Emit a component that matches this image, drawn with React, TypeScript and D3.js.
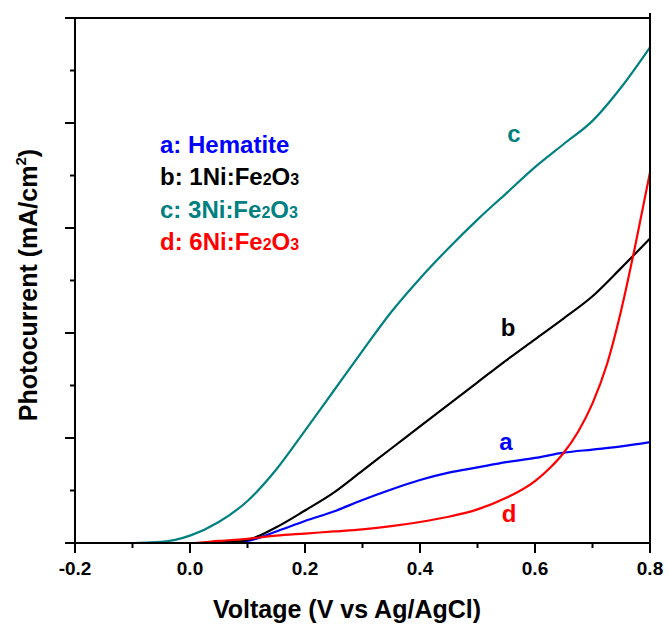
import React from 'react';
import * as d3 from 'd3';

// voltage steps (V vs Ag/AgCl)
const voltage = [-0.2, -0.15, -0.1, -0.05, 0.0, 0.05, 0.1, 0.15, 0.2, 0.25, 0.3, 0.35, 0.4, 0.45, 0.5, 0.55, 0.6, 0.65, 0.7, 0.75, 0.8];

// photocurrent (arbitrary units, axis has no labels)
const hematite = [0, 0, 0, 0, 0, 0, 0.02, 0.11, 0.21, 0.3, 0.41, 0.51, 0.6, 0.67, 0.72, 0.77, 0.81, 0.86, 0.89, 0.92, 0.96];
const ni1 = [0, 0, 0, 0, 0, 0.005, 0.03, 0.15, 0.31, 0.48, 0.69, 0.9, 1.11, 1.32, 1.53, 1.74, 1.94, 2.14, 2.35, 2.62, 2.9];
const ni3 = [0, 0, 0, 0.01, 0.07, 0.2, 0.4, 0.7, 1.07, 1.45, 1.83, 2.2, 2.52, 2.81, 3.08, 3.33, 3.58, 3.8, 4.02, 4.34, 4.72];

const voltageD = [-0.2, -0.1, 0.0, 0.05, 0.1, 0.15, 0.2, 0.25, 0.3, 0.35, 0.4, 0.45, 0.5, 0.55, 0.6, 0.625, 0.65, 0.675, 0.7, 0.725, 0.75, 0.775, 0.8];
const ni6 = [0, 0, 0, 0.02, 0.04, 0.07, 0.09, 0.11, 0.13, 0.16, 0.2, 0.25, 0.32, 0.43, 0.59, 0.71, 0.86, 1.06, 1.33, 1.7, 2.22, 2.85, 3.53];

const xTicks = [-0.2, 0.0, 0.2, 0.4, 0.6, 0.8];
const xTickLabels = ['-0.2', '0.0', '0.2', '0.4', '0.6', '0.8'];
const xMinor = [-0.1, 0.1, 0.3, 0.5, 0.7];
const yTicks = [0, 1, 2, 3, 4, 5];
const yMinor = [0.5, 1.5, 2.5, 3.5, 4.5];

const legend = [
  { key: 'a', name: 'Hematite', color: '#0000ff' },
  { key: 'b', name: '1Ni:Fe', color: '#000000' },
  { key: 'c', name: '3Ni:Fe', color: '#008080' },
  { key: 'd', name: '6Ni:Fe', color: '#ff0000' },
];

const font = 'Arial, "Liberation Sans", sans-serif';

const App = () => {
  const left = 75, right = 650, top = 18, bottom = 543;
  const x = d3.scaleLinear().domain([-0.2, 0.8]).range([left, right]);
  const y = d3.scaleLinear().domain([0, 5]).range([bottom, top]);

  const line = d3.line<[number, number]>()
    .x(d => x(d[0]))
    .y(d => y(d[1]))
    .curve(d3.curveMonotoneX);

  const series = [
    { vs: voltage, is: hematite, color: '#0000ff' },
    { vs: voltage, is: ni1, color: '#000000' },
    { vs: voltage, is: ni3, color: '#008080' },
    { vs: voltageD, is: ni6, color: '#ff0000' },
  ];

  return (
    <svg width={669} height={628} style={{ position: 'absolute', left: 0, top: 0, background: '#fff' }}
      fontFamily={font} fontWeight="bold">
      {series.map((s, i) => (
        <path key={i} d={line(s.vs.map((v, j) => [v, s.is[j]]) as [number, number][]) || ''}
          fill="none" stroke={s.color} strokeWidth={2.2} />
      ))}

      {/* frame */}
      <line x1={left} x2={right} y1={top} y2={top} stroke="#000" strokeWidth={2} />
      <line x1={left} x2={right} y1={bottom} y2={bottom} stroke="#000" strokeWidth={2} />
      <line x1={left} x2={left} y1={top} y2={bottom} stroke="#000" strokeWidth={2} />
      <line x1={right} x2={right} y1={top - 5} y2={bottom} stroke="#000" strokeWidth={2} />

      {xTicks.map((t, i) => (
        <g key={t}>
          <line x1={x(t)} x2={x(t)} y1={bottom} y2={bottom + 10} stroke="#000" strokeWidth={2} />
          <text x={x(t)} y={575} textAnchor="middle" fontSize={19}>{xTickLabels[i]}</text>
        </g>
      ))}
      {xMinor.map(t => (
        <line key={t} x1={x(t)} x2={x(t)} y1={bottom} y2={bottom + 5} stroke="#000" strokeWidth={2} />
      ))}
      {yTicks.map(t => (
        <line key={t} x1={left - 10} x2={left} y1={y(t)} y2={y(t)} stroke="#000" strokeWidth={2} />
      ))}
      {yMinor.map(t => (
        <line key={t} x1={left - 5} x2={left} y1={y(t)} y2={y(t)} stroke="#000" strokeWidth={2} />
      ))}

      <text x={347} y={618} textAnchor="middle" fontSize={25}>Voltage (V vs Ag/AgCl)</text>
      <text transform="translate(37,285) rotate(-90)" textAnchor="middle" fontSize={25}>
        Photocurrent (mA/cm<tspan fontSize={15} dy={-11}>2</tspan><tspan dy={11}>)</tspan>
      </text>

      {legend.map((l, i) => (
        <text key={l.key} x={160} y={153 + i * 32.4} fontSize={24} fill={l.color}>
          {l.key}: {l.name}
          {i > 0 && <><tspan fontSize={16}>2</tspan>O<tspan fontSize={16}>3</tspan></>}
        </text>
      ))}

      <text x={514} y={142} textAnchor="middle" fontSize={24} fill="#008080">c</text>
      <text x={508} y={336} textAnchor="middle" fontSize={24} fill="#000">b</text>
      <text x={506} y={450} textAnchor="middle" fontSize={24} fill="#0000ff">a</text>
      <text x={509} y={522} textAnchor="middle" fontSize={24} fill="#ff0000">d</text>
    </svg>
  );
};

export default App;
